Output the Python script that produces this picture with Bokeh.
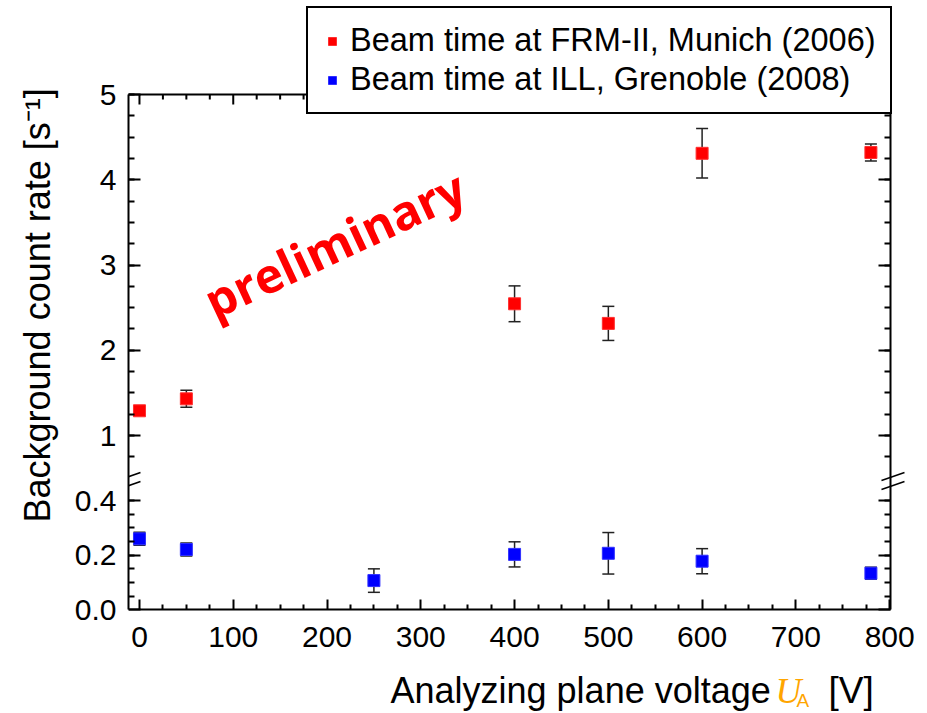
import numpy as np
from bokeh.plotting import figure
from bokeh.models import (Range1d, LinearAxis, FixedTicker, CustomJSTickFormatter, Title,
                          ColumnDataSource, Whisker, TeeHead, Legend, LegendItem, Label, Arrow)
from bokeh.embed import file_html
from bokeh.resources import INLINE

# ---------------- data ----------------
voltage_frm = [0, 50, 400, 500, 600, 780]
rate_frm = [1.29, 1.43, 2.545, 2.315, 4.31, 4.32]
err_frm = [0.05, 0.10, 0.21, 0.20, 0.29, 0.10]

voltage_ill = [0, 50, 250, 400, 500, 600, 780]
rate_ill = [0.260, 0.221, 0.107, 0.203, 0.207, 0.178, 0.134]
err_ill = [0.024, 0.024, 0.043, 0.046, 0.076, 0.046, 0.022]

x_ticks = [0, 100, 200, 300, 400, 500, 600, 700, 800]
y_ticks_upper = [1, 2, 3, 4, 5]
y_ticks_lower = [0.0, 0.2, 0.4]

label_frm = "Beam time at FRM-II, Munich (2006)"
label_ill = "Beam time at ILL, Grenoble (2008)"
y_title = "Background count rate [s\u207b\u00b9]"

# ---------------- layout geometry (px) ----------------
WIDTH, H = 927, 713
BOX_LEFT, BOX_RIGHT = 126, 890   # pixel columns of the plot box
BOX_TOP = 94                     # pixel row of y = 5
BOX_BOTTOM = 609.3               # pixel row of the x axis
PPU_UP = 85.25                   # px per unit, upper segment
PPU_LOW = 273.0                  # px per unit, lower segment

# ---------------- ranges ----------------
x_box = (-11.7, 801.0)
ppv = (BOX_RIGHT - BOX_LEFT) / (x_box[1] - x_box[0])
x_hi = x_box[1] + (WIDTH - BOX_RIGHT) / ppv

y_top = 5.0
up_hi = y_top + BOX_TOP / PPU_UP
up_box = y_top - (BOX_BOTTOM - BOX_TOP) / PPU_UP      # value at the x axis
up_lo = y_top - (H - BOX_TOP) / PPU_UP
low_box = 0.0
low_lo = low_box - (H - BOX_BOTTOM) / PPU_LOW
low_hi = low_box + BOX_BOTTOM / PPU_LOW
k = PPU_LOW / PPU_UP
brk = 0.473


def low_to_up(v):
    return up_box + (v - low_box) * k


FONT = "Liberation Sans"

p = figure(width=WIDTH, height=H, output_backend="svg", toolbar_location=None,
           x_range=Range1d(x_box[0], x_hi), y_range=Range1d(up_lo, up_hi),
           min_border_left=BOX_LEFT, min_border_right=0, min_border_top=0, min_border_bottom=0)
p.extra_y_ranges = {"low": Range1d(low_lo, low_hi)}
p.xgrid.visible = False
p.ygrid.visible = False
p.outline_line_color = None
p.background_fill_color = "white"
p.border_fill_color = "white"

# tickers
x_minor = [t + d for t in x_ticks for d in (25, 50, 75) if t + d < x_box[1]]
x_ticker = FixedTicker(ticks=x_ticks, minor_ticks=x_minor)
y_major = [low_to_up(v) for v in y_ticks_lower] + y_ticks_upper
y_minor = [low_to_up(v) for v in np.arange(0.05, 0.401, 0.05)] + list(np.arange(0.75, 5.01, 0.25))
y_ticker = FixedTicker(ticks=y_major, minor_ticks=y_minor)

blank = CustomJSTickFormatter(code="return '';")
y_fmt = CustomJSTickFormatter(args=dict(brk=brk, lo=up_box, k=k), code="""
if (tick < brk) { const v = Math.round(((tick - lo) / k) * 10) / 10; return v.toFixed(1); }
return tick.toFixed(0);
""")


def style_axis(ax, major_in, minor_in, standoff):
    ax.axis_line_width = 2
    ax.axis_line_color = "black"
    ax.major_tick_in = major_in
    ax.major_tick_out = 0
    ax.minor_tick_in = minor_in
    ax.minor_tick_out = 0
    ax.major_tick_line_width = 2
    ax.minor_tick_line_width = 2
    ax.major_label_text_font = FONT
    ax.major_label_text_font_size = "30px"
    ax.major_label_text_color = "black"
    ax.major_label_standoff = standoff


bx = p.xaxis[0]
bx.ticker = x_ticker
bx.fixed_location = up_box
bx.bounds = x_box
style_axis(bx, 10, 5, 17)

ly = p.yaxis[0]
ly.ticker = y_ticker
ly.formatter = y_fmt
ly.bounds = (up_box, y_top)
style_axis(ly, 12, 6, 12)

ry = LinearAxis(ticker=y_ticker, formatter=blank, bounds=(up_box, y_top), fixed_location=x_box[1])
style_axis(ry, 12, 6, 0)
p.add_layout(ry, "right")

# top edge of the box, with inward ticks
p.segment(x0=[x_box[0]], y0=[y_top], x1=[x_box[1]], y1=[y_top], line_color="black", line_width=2)
tick_src = ColumnDataSource(dict(
    x=x_ticks + x_minor,
    y0=[y_top] * (len(x_ticks) + len(x_minor)),
    y1=[y_top - 10 / PPU_UP] * len(x_ticks) + [y_top - 5 / PPU_UP] * len(x_minor)))
p.segment(x0="x", y0="y0", x1="x", y1="y1", source=tick_src, line_color="black", line_width=2)

# y axis title (starts low on the axis, like the reference)
p.add_layout(Title(text=y_title, align="left", offset=H - 522, standoff=28,
                   text_font=FONT, text_font_size="36px", text_font_style="normal",
                   text_color="black"), "left")

# ---------------- data glyphs ----------------
src_frm = ColumnDataSource(dict(x=voltage_frm, y=rate_frm,
                                lo=[r - e for r, e in zip(rate_frm, err_frm)],
                                hi=[r + e for r, e in zip(rate_frm, err_frm)]))
src_ill = ColumnDataSource(dict(x=voltage_ill, y=rate_ill,
                                lo=[r - e for r, e in zip(rate_ill, err_ill)],
                                hi=[r + e for r, e in zip(rate_ill, err_ill)]))

for src, rng in ((src_frm, "default"), (src_ill, "low")):
    w = Whisker(source=src, base="x", lower="lo", upper="hi", dimension="height",
                line_color="#222222", line_width=1.5, level="underlay", y_range_name=rng,
                upper_head=TeeHead(size=12, line_color="#222222", line_width=1.5),
                lower_head=TeeHead(size=12, line_color="#222222", line_width=1.5))
    p.add_layout(w)

r_frm = p.scatter("x", "y", source=src_frm, marker="square", size=12,
                  fill_color="#ff0000", line_color="#ff3030", line_width=1)
r_ill = p.scatter("x", "y", source=src_ill, marker="square", size=12, y_range_name="low",
                  fill_color="#0000ff", line_color="#3030ff", line_width=1)

# ---------------- "preliminary" stamp ----------------
p.add_layout(Label(x=206, y=H - 243, x_units="screen", y_units="screen", angle=np.radians(25),
                   text="preliminary", text_font="Open Sans", text_font_style="bold",
                   text_font_size="48px", text_align="center", text_baseline="middle",
                   text_color="#ff0000"))

# ---------------- legend ----------------
legend = Legend(items=[LegendItem(label=label_frm, renderers=[r_frm]),
                       LegendItem(label=label_ill, renderers=[r_ill])],
                location=(178, H - 114), orientation="vertical",
                border_line_color="black", border_line_width=2, border_line_alpha=1.0,
                background_fill_color="white", background_fill_alpha=1.0,
                label_text_font=FONT, label_text_font_size="32.5px", label_text_color="black",
                glyph_width=20, glyph_height=20, label_standoff=8,
                padding=14, spacing=2, margin=0)
p.add_layout(legend)

# ---------------- break marks ----------------
W = BOX_RIGHT - BOX_LEFT
for x0 in (0, W):
    for dy in (0, 9):
        ys = H - 489 + dy
        p.add_layout(Arrow(x_start=x0 - 11, y_start=ys, x_end=x0 + 12, y_end=ys + 8,
                           start_units="screen", end_units="screen", start=None, end=None,
                           line_color="black", line_width=1.5))

# ---------------- x axis title ----------------
p.add_layout(Label(x=262, y=23, x_units="screen", y_units="screen",
                   text="Analyzing plane voltage", text_font=FONT, text_font_size="36px",
                   text_align="left", text_baseline="alphabetic", text_color="black"))
p.add_layout(Label(x=647, y=23, x_units="screen", y_units="screen",
                   text="U", text_font="Liberation Serif", text_font_style="italic",
                   text_font_size="36px", text_align="left", text_baseline="alphabetic",
                   text_color="#ffa500"))
p.add_layout(Label(x=668, y=13, x_units="screen", y_units="screen",
                   text="A", text_font=FONT, text_font_size="19px",
                   text_align="left", text_baseline="alphabetic", text_color="#ffa500"))
p.add_layout(Label(x=700, y=23, x_units="screen", y_units="screen",
                   text="[V]", text_font=FONT, text_font_size="37px",
                   text_align="left", text_baseline="alphabetic", text_color="black"))

open("out.html", "w").write(file_html(p, INLINE))
